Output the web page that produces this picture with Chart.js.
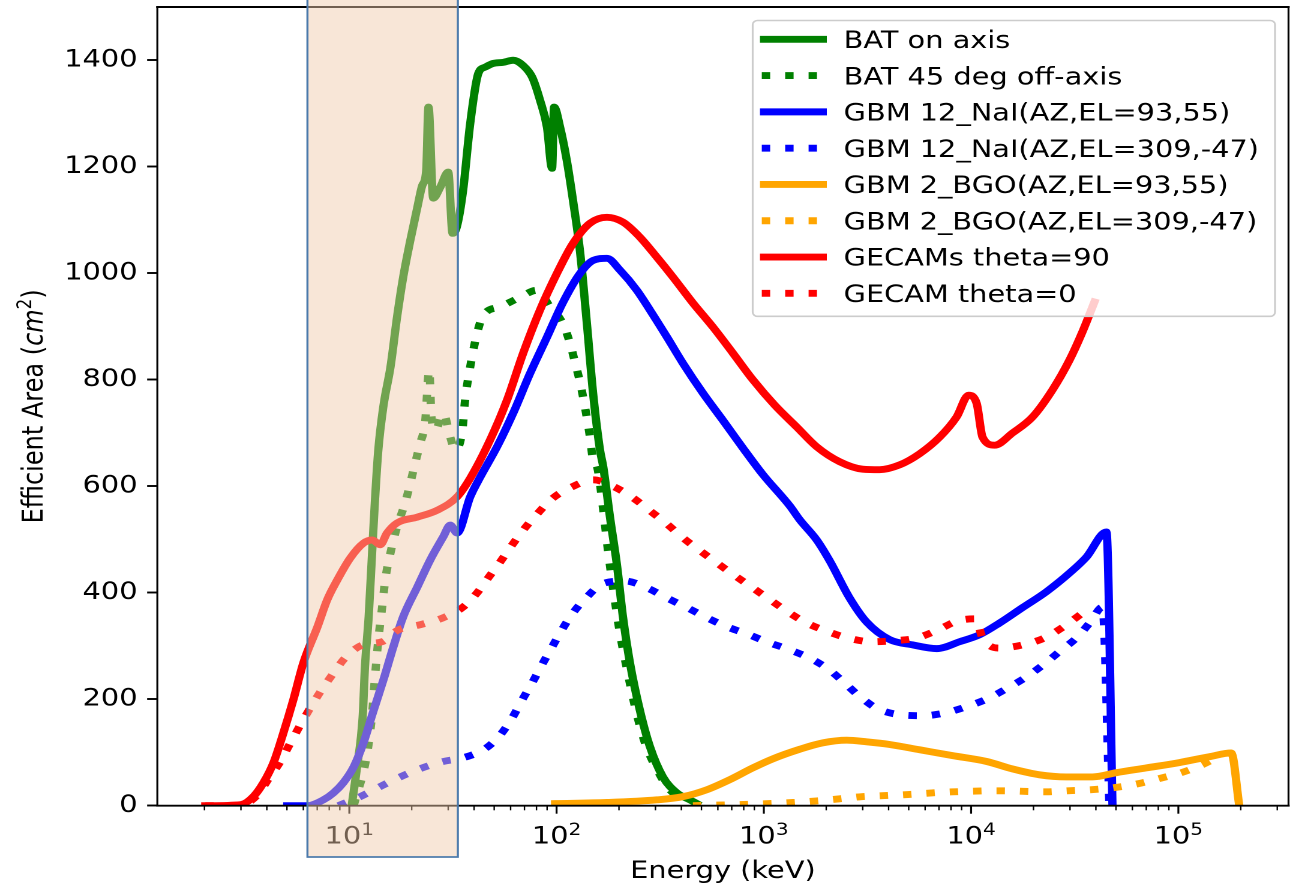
<!DOCTYPE html>
<html>
<head>
<meta charset="utf-8">
<script src="https://cdn.jsdelivr.net/npm/chart.js@4.4.1/dist/chart.umd.min.js"></script>
<style>
  html, body { margin: 0; padding: 0; background: #fff; overflow: hidden; }
  /* the figure is laid out narrow and stretched sideways */
  #wrap { width: 1085px; height: 887px; transform: scaleX(1.2); transform-origin: 0 0; }
</style>
</head>
<body>
<div id="wrap"><canvas id="areaChart" width="1085" height="887"></canvas></div>
<script>
const FONT = "'DejaVu Sans'";

// Effective area curves: energy (keV) and area (cm^2)
const batOnAxisKeV = [10.3, 10.9, 11.6, 11.9, 12.4, 12.9, 13.3, 13.8, 14.6, 15.8, 17.0, 18.2, 19.7, 21.3, 22.5, 23.5, 24.1, 25.4, 27.5, 30.0, 31.5, 33.0, 35.4, 38.3, 41.9, 45.2, 49.4, 55.2, 61.7, 69.0, 76.3, 83.2, 89.9, 95.1, 97.3, 104, 112, 120, 130, 140, 150, 162, 168, 181, 196, 209, 226, 252, 282, 326, 381, 440, 475];
const batOnAxisArea = [4, 73, 167, 261, 355, 480, 574, 668, 750, 824, 918, 993, 1062, 1124, 1165, 1193, 1312, 1141, 1162, 1190, 1075, 1087, 1156, 1281, 1375, 1387, 1394, 1396, 1400, 1390, 1368, 1325, 1274, 1197, 1312, 1274, 1212, 1137, 1038, 906, 775, 668, 636, 542, 449, 355, 268, 180, 111, 54, 24, 11, 4];

const batOffAxisKeV = [10.5, 12.2, 12.9, 13.3, 13.8, 14.4, 14.9, 15.8, 17.0, 18.6, 19.7, 20.8, 22.0, 23.2, 24.3, 24.9, 26.0, 28.4, 30.7, 32.4, 35.1, 36.2, 38.3, 41.4, 44.3, 53.5, 65.2, 80.5, 93.0, 107, 116, 123, 130, 137, 145, 150, 157, 168, 177, 187, 202, 219, 239, 267, 305, 352, 426];
const batOffAxisArea = [0, 99, 175, 242, 311, 373, 424, 475, 524, 569, 606, 644, 681, 719, 818, 730, 705, 737, 692, 668, 705, 762, 824, 888, 921, 937, 953, 968, 937, 906, 869, 831, 794, 749, 692, 649, 636, 555, 480, 411, 325, 255, 186, 118, 68, 30, 8];

const naiOnKeV = [5.02, 6.28, 7.50, 8.38, 9.35, 10.5, 11.7, 13.0, 14.6, 16.3, 18.2, 21.3, 24.6, 28.4, 30.7, 33.1, 38.3, 42.8, 51.6, 61.7, 74.5, 89.9, 107, 130, 150, 175, 202, 244, 282, 341, 407, 508, 634, 792, 989, 1334, 1490, 1800, 2078, 2595, 3133, 4045, 5226, 6823, 8810, 10990, 13710, 17700, 23110, 30480, 36030, 44980, 48090];
const naiOnArea = [0, 0, 11, 24, 43, 73, 118, 175, 236, 298, 355, 411, 462, 505, 527, 512, 580, 617, 674, 737, 812, 880, 944, 1000, 1024, 1028, 1006, 968, 931, 880, 831, 775, 724, 672, 622, 563, 537, 499, 460, 390, 345, 312, 302, 295, 308, 321, 343, 372, 402, 440, 467, 514, 0];

const naiOffKeV = [8.85, 11.3, 14.1, 17.6, 22.5, 28.4, 35.4, 45.2, 53.5, 61.1, 68.3, 76.3, 85.1, 95.1, 106, 120, 140, 167, 214, 273, 341, 426, 531, 663, 837, 1045, 1306, 1667, 2056, 2430, 2904, 3543, 4519, 5834, 7447, 9506, 12020, 15000, 18500, 22340, 26990, 32210, 37640, 43030, 46500];
const naiOffArea = [0, 17, 36, 54, 71, 83, 90, 107, 133, 165, 199, 231, 265, 298, 330, 362, 392, 417, 422, 409, 390, 372, 353, 336, 322, 307, 294, 277, 256, 232, 205, 182, 171, 169, 174, 186, 201, 221, 242, 265, 291, 315, 345, 373, 0];

const bgoOnKeV = [98.4, 175, 305, 407, 531, 686, 885, 1105, 1490, 1923, 2512, 3133, 4045, 5645, 8147, 11890, 15850, 21380, 28840, 38540, 50230, 70150, 101100, 141000, 180000, 196700];
const bgoOnArea = [4, 6, 11, 17, 30, 49, 71, 88, 106, 118, 123, 120, 115, 105, 94, 83, 69, 58, 54, 54, 62, 71, 81, 92, 99, 0];

const bgoOffKeV = [455, 900, 1380, 1800, 2322, 2965, 3827, 4944, 6455, 8147, 13710, 23110, 29160, 38080, 49170, 63420, 80930, 103300, 130600, 163000];
const bgoOffArea = [0, 3, 6, 9, 13, 17, 19, 21, 24, 26, 28, 26, 28, 30, 34, 41, 51, 62, 77, 96];

const gecam90KeV = [2.02, 2.99, 3.44, 3.85, 4.31, 4.81, 5.37, 6.00, 7.02, 7.83, 8.75, 10.1, 11.7, 12.9, 14.1, 15.2, 17.0, 21.3, 26.6, 33.1, 38.3, 47.8, 57.7, 69.0, 83.2, 100.5, 120, 145, 175, 209, 252, 305, 364, 455, 568, 709, 885, 1130, 1443, 1800, 2322, 2998, 3622, 4519, 5645, 7047, 8511, 9725, 10630, 11360, 12980, 15850, 19790, 24700, 29850, 34460, 39350];
const gecam90Area = [0, 2, 17, 43, 81, 137, 199, 268, 336, 387, 424, 465, 493, 499, 490, 512, 531, 542, 555, 580, 615, 687, 762, 850, 931, 1000, 1056, 1094, 1105, 1096, 1068, 1030, 993, 944, 899, 850, 800, 752, 711, 674, 646, 632, 631, 640, 661, 692, 730, 771, 756, 692, 677, 700, 730, 781, 837, 890, 946];

const gecam0KeV = [2.02, 2.99, 3.16, 3.64, 4.07, 4.65, 5.20, 5.81, 6.49, 7.25, 8.28, 9.57, 11.6, 14.4, 17.2, 22.0, 28.4, 35.1, 41.4, 46.8, 53.5, 61.1, 70.5, 81.5, 96.2, 119, 150, 187, 234, 282, 341, 407, 492, 593, 725, 885, 1069, 1306, 1611, 2033, 2540, 3313, 4276, 5459, 6897, 8610, 10510, 11360, 13710, 17700, 22590, 27920, 34460];
const gecam0Area = [0, 1, 3, 22, 50, 83, 118, 152, 184, 214, 246, 278, 302, 308, 330, 340, 353, 372, 400, 428, 458, 490, 522, 550, 578, 599, 612, 600, 578, 554, 529, 503, 479, 456, 432, 409, 387, 364, 343, 327, 315, 308, 310, 315, 330, 347, 351, 315, 296, 302, 315, 336, 362];

// highlighted energy band (keV)
const shadeKeV = [6.28, 33.4];

const yTickStep = 200;
const xDecades = [1, 2, 3, 4, 5];

const series = [
  { label: 'BAT on axis', kev: batOnAxisKeV, area: batOnAxisArea, color: '#008000', dotted: false },
  { label: 'BAT 45 deg off-axis', kev: batOffAxisKeV, area: batOffAxisArea, color: '#008000', dotted: true },
  { label: 'GBM 12_NaI(AZ,EL=93,55)', kev: naiOnKeV, area: naiOnArea, color: '#0000ff', dotted: false },
  { label: 'GBM 12_NaI(AZ,EL=309,-47)', kev: naiOffKeV, area: naiOffArea, color: '#0000ff', dotted: true },
  { label: 'GBM 2_BGO(AZ,EL=93,55)', kev: bgoOnKeV, area: bgoOnArea, color: '#ffa500', dotted: false },
  { label: 'GBM 2_BGO(AZ,EL=309,-47)', kev: bgoOffKeV, area: bgoOffArea, color: '#ffa500', dotted: true },
  { label: 'GECAMs theta=90', kev: gecam90KeV, area: gecam90Area, color: '#ff0000', dotted: false },
  { label: 'GECAM theta=0', kev: gecam0KeV, area: gecam0Area, color: '#ff0000', dotted: true },
];

const LINE_W = 6.9;
const DOTS = [7, 12.5];

const datasets = series.map((s, i) => ({
  label: s.label,
  data: s.kev.map((e, j) => ({ x: e, y: s.area[j] })),
  borderColor: s.color,
  borderWidth: LINE_W,
  borderDash: s.dotted ? DOTS : [],
  borderCapStyle: s.dotted ? 'butt' : 'square',
  borderJoinStyle: 'round',
  pointRadius: 0,
  fill: false,
  cubicInterpolationMode: 'monotone',
  clip: 0,
  order: series.length - 1 - i,
}));

function drawTenPower(ctx, exp, cx, baseline) {
  ctx.font = `24px ${FONT}`;
  const wBase = ctx.measureText('10').width;
  ctx.font = `16.8px ${FONT}`;
  const wExp = ctx.measureText(String(exp)).width;
  const left = cx - (wBase + wExp) / 2;
  ctx.font = `24px ${FONT}`;
  ctx.fillText('10', left, baseline);
  ctx.font = `16.8px ${FONT}`;
  ctx.fillText(String(exp), left + wBase, baseline - 8.3);
}

const decorations = {
  id: 'decorations',
  afterDatasetsDraw(chart) {
    const { ctx, chartArea: a } = chart;
    ctx.save();
    ctx.strokeStyle = '#000';
    ctx.lineCap = 'square';
    ctx.lineWidth = 1.9;
    ctx.beginPath();
    ctx.moveTo(a.left, a.top); ctx.lineTo(a.right, a.top);
    ctx.moveTo(a.left, a.bottom); ctx.lineTo(a.right, a.bottom);
    ctx.stroke();
    ctx.lineWidth = 1.6;
    ctx.beginPath();
    ctx.moveTo(a.left, a.top); ctx.lineTo(a.left, a.bottom);
    ctx.moveTo(a.right, a.top); ctx.lineTo(a.right, a.bottom);
    ctx.stroke();
    ctx.restore();
  },
  afterDraw(chart) {
    const { ctx, chartArea: a, scales: { x } } = chart;
    ctx.save();

    // log axis ticks, majors longer
    ctx.strokeStyle = '#000';
    for (let e = 0; e <= 5; e++) {
      for (let m = 1; m <= 9; m++) {
        const px = x.getPixelForValue(m * Math.pow(10, e));
        if (px < a.left - 0.5 || px > a.right + 0.5) continue;
        const major = m === 1;
        ctx.lineWidth = major ? 1.6 : 1.2;
        ctx.beginPath();
        ctx.moveTo(px, a.bottom);
        ctx.lineTo(px, a.bottom + (major ? 8 : 4.6));
        ctx.stroke();
      }
    }
    ctx.fillStyle = '#000';
    ctx.textAlign = 'left';
    ctx.textBaseline = 'alphabetic';
    xDecades.forEach(e => drawTenPower(ctx, e, x.getPixelForValue(Math.pow(10, e)), 843.3));

    // axis titles
    ctx.font = `24px ${FONT}`;
    ctx.textAlign = 'center';
    ctx.fillText('Energy (keV)', (a.left + a.right) / 2, 878);

    const parts = [
      { t: 'Efficient Area (', f: `24px ${FONT}`, dy: 0 },
      { t: 'cm', f: `italic 24px ${FONT}`, dy: 0 },
      { t: '2', f: `16.8px ${FONT}`, dy: -9.5 },
      { t: ')', f: `24px ${FONT}`, dy: 0 },
    ];
    let total = 0;
    parts.forEach(p => { ctx.font = p.f; p.w = ctx.measureText(p.t).width; total += p.w; });
    ctx.save();
    ctx.translate(35.5, (a.top + a.bottom) / 2);
    ctx.rotate(-Math.PI / 2);
    ctx.textAlign = 'left';
    let cx = -total / 2;
    parts.forEach(p => { ctx.font = p.f; ctx.fillText(p.t, cx, p.dy); cx += p.w; });
    ctx.restore();

    // legend
    const box = { left: 627.25, right: 1062.5, top: 20.5, bottom: 316.3, r: 4 };
    ctx.beginPath();
    ctx.moveTo(box.left + box.r, box.top);
    ctx.arcTo(box.right, box.top, box.right, box.bottom, box.r);
    ctx.arcTo(box.right, box.bottom, box.left, box.bottom, box.r);
    ctx.arcTo(box.left, box.bottom, box.left, box.top, box.r);
    ctx.arcTo(box.left, box.top, box.right, box.top, box.r);
    ctx.closePath();
    ctx.fillStyle = 'rgba(255,255,255,0.8)';
    ctx.fill();
    ctx.strokeStyle = '#cccccc';
    ctx.lineWidth = 1.6;
    ctx.stroke();

    chart.data.datasets.forEach((ds, i) => {
      const cy = 39.3 + i * 36.29;
      ctx.strokeStyle = ds.borderColor;
      ctx.lineWidth = LINE_W;
      ctx.lineCap = 'butt';
      ctx.setLineDash(ds.borderDash);
      ctx.lineDashOffset = ds.borderDash.length ? -1.5 : 0;
      ctx.beginPath();
      ctx.moveTo(633.3, cy);
      ctx.lineTo(689, cy);
      ctx.stroke();
      ctx.setLineDash([]);
      ctx.fillStyle = '#000';
      ctx.font = `24px ${FONT}`;
      ctx.textAlign = 'left';
      ctx.fillText(ds.label, 703, cy + 8.7);
    });

    // highlighted band laid over everything
    const x0 = x.getPixelForValue(shadeKeV[0]);
    const x1 = x.getPixelForValue(shadeKeV[1]);
    ctx.fillStyle = 'rgba(240,202,170,0.47)';
    ctx.fillRect(x0, 0, x1 - x0, 857);
    ctx.strokeStyle = '#4a79ab';
    ctx.lineWidth = 1.7;
    ctx.strokeRect(x0, -2, x1 - x0, 859);

    ctx.restore();
  }
};

Chart.defaults.font.family = FONT;
Chart.defaults.font.size = 24;
Chart.defaults.color = '#000';

new Chart(document.getElementById('areaChart'), {
  type: 'line',
  data: { datasets },
  options: {
    responsive: false,
    animation: false,
    devicePixelRatio: 2,
    events: [],
    layout: { padding: { left: 0, right: 11.25, top: 7, bottom: 0 } },
    plugins: { legend: { display: false }, tooltip: { enabled: false } },
    scales: {
      x: {
        type: 'logarithmic',
        min: 1.185,
        max: 3.4e5,
        grid: { display: false },
        border: { display: false },
        ticks: { display: false },
        afterFit: (s) => { s.height = 81.3; s.paddingLeft = 0; s.paddingRight = 0; },
      },
      y: {
        min: 0,
        max: 1500,
        ticks: {
          stepSize: yTickStep, includeBounds: false, padding: 8, color: '#000', font: { size: 24 },
          callback: (v) => String(v),
        },
        grid: { drawOnChartArea: false, drawTicks: true, tickLength: 8.5, tickWidth: 1.9, tickColor: '#000' },
        border: { display: false },
        afterFit: (s) => { s.width = 131.1; s.paddingTop = 0; s.paddingBottom = 0; },
      },
    },
  },
  plugins: [decorations],
});
</script>
</body>
</html>
